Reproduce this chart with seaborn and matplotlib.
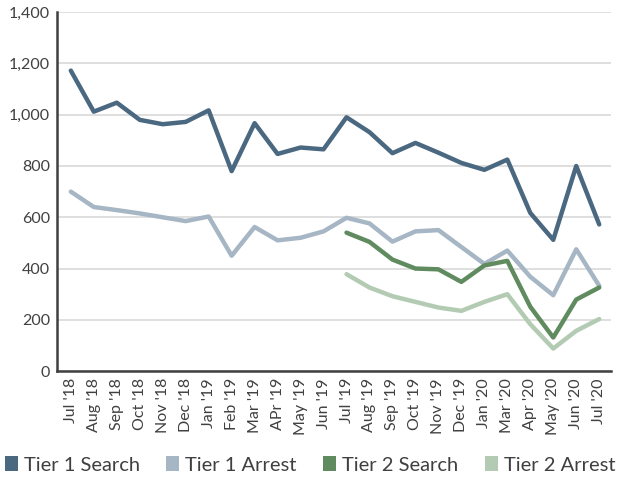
import matplotlib
matplotlib.use("Agg")
import matplotlib.pyplot as plt
import pandas as pd
import seaborn as sns
from matplotlib.patches import Patch

months = ["Jul '18", "Aug '18", "Sep '18", "Oct '18", "Nov '18", "Dec '18",
          "Jan '19", "Feb '19", "Mar '19", "APr '19", "May '19", "Jun '19",
          "Jul '19", "Aug '19", "Sep '19", "Oct '19", "Nov '19", "Dec '19",
          "Jan '20", "Mar '20", "Apr '20", "May '20", "Jun '20", "Jul '20"]

tier1_search = [1172, 1012, 1047, 980, 963, 972, 1017, 780, 967, 847, 872, 865,
                990, 932, 850, 890, 852, 812, 785, 825, 617, 512, 800, 572]
tier1_arrest = [700, 640, 628, 615, 600, 585, 603, 450, 562, 510, 520, 545,
                598, 576, 505, 545, 550, 484, 418, 470, 368, 296, 475, 333]
# Tier 2 reporting starts Jul '19
tier2_months = months[12:]
tier2_search = [540, 504, 435, 400, 397, 348, 412, 430, 251, 131, 279, 326]
tier2_arrest = [378, 326, 292, 270, 248, 235, 270, 300, 183, 88, 157, 203]

series_names = ["Tier 1 Search", "Tier 1 Arrest", "Tier 2 Search", "Tier 2 Arrest"]
colors = ["#4b6881", "#a6b6c4", "#5f8b5f", "#b3cbb3"]

df = pd.concat([
    pd.DataFrame({"month": months, "value": tier1_search, "series": series_names[0]}),
    pd.DataFrame({"month": months, "value": tier1_arrest, "series": series_names[1]}),
    pd.DataFrame({"month": tier2_months, "value": tier2_search, "series": series_names[2]}),
    pd.DataFrame({"month": tier2_months, "value": tier2_arrest, "series": series_names[3]}),
])
df["pos"] = df["month"].map({m: i for i, m in enumerate(months)})

sns.set_style("white")
plt.rcParams["font.family"] = ["Lato", "DejaVu Sans"]

fig, ax = plt.subplots(figsize=(6.2, 4.87), dpi=100)
fig.subplots_adjust(left=0.092, right=0.985, top=0.975, bottom=0.238)

sns.lineplot(data=df, x="pos", y="value", hue="series", hue_order=series_names,
             palette=colors, linewidth=3.2, sort=False, legend=False, ax=ax)

ax.set_ylim(0, 1400)
ax.set_yticks(range(0, 1401, 200))
ax.set_yticklabels([f"{v:,}" for v in range(0, 1401, 200)], fontsize=11.5, color="#404040")
ax.set_xlim(-0.6, len(months) - 0.5)
ax.set_xticks(range(len(months)))
ax.set_xticklabels(months, rotation=90, fontsize=11.5, color="#404040")
ax.set_xlabel("")
ax.set_ylabel("")
ax.tick_params(axis="both", length=0, pad=5)

ax.grid(axis="y", color="#d9d9d9", linewidth=1.2)
ax.set_axisbelow(True)
for side in ["top", "right"]:
    ax.spines[side].set_visible(False)
ax.spines["left"].set_color("#404040")
ax.spines["left"].set_linewidth(1.8)
ax.spines["bottom"].set_color("#404040")
ax.spines["bottom"].set_linewidth(1.8)

handles = [Patch(facecolor=c, edgecolor="none") for c in colors]
fig.legend(handles, series_names, loc="lower center", ncol=4, frameon=False,
           fontsize=14.5, handlelength=0.65, handleheight=0.75, handletextpad=0.3,
           columnspacing=1.3, bbox_to_anchor=(0.5, -0.01), labelcolor="#404040")

fig.savefig("out.png", dpi=100)
